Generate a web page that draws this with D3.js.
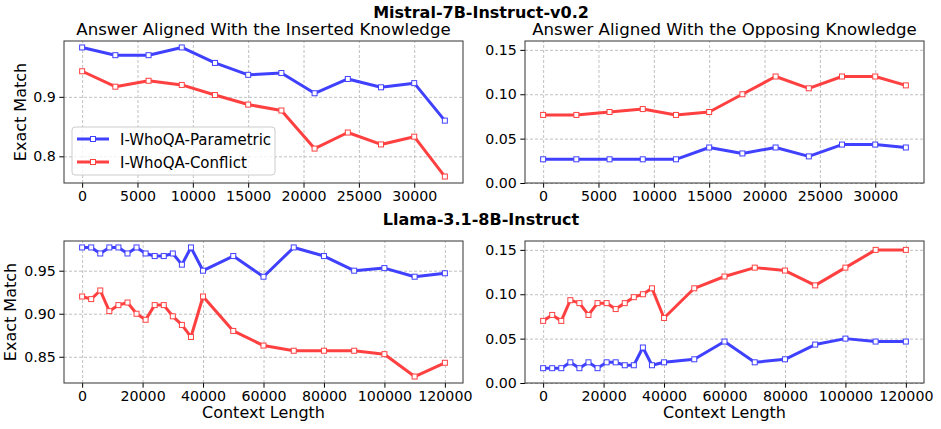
<!DOCTYPE html>
<html lang="en">
<head>
<meta charset="UTF-8">
<title>Exact Match vs Context Length</title>
<script src="https://d3js.org/d3.v7.min.js"></script>
<style>
  body { margin: 0; background: #fff; font-family: "DejaVu Sans", sans-serif; }
  .tick text { font-family: "DejaVu Sans", sans-serif; font-size: 14.2px; fill: #000; }
  .tick line { stroke: #000; }
  .grid line { stroke: #b0b0b0; stroke-dasharray: 3,2; stroke-width: 0.8; }
  .grid path { display: none; }
</style>
</head>
<body>
<svg id="chart" width="941" height="429"></svg>
<script>
// Mistral-7B-Instruct-v0.2 context lengths
const mistralX = [0, 3000, 6000, 9000, 12000, 15000, 18000, 21000, 24000, 27000, 30000, 32768];
// Llama-3.1-8B-Instruct context lengths
const llamaX = [0, 3000, 6000, 9000, 12000, 15000, 18000, 21000, 24000, 27000, 30000, 33000, 36000,
  40000, 50000, 60000, 70000, 80000, 90000, 100000, 110000, 120000];

const mistralInsParam = [0.983, 0.970, 0.970, 0.983, 0.957, 0.937, 0.940, 0.906, 0.930, 0.916, 0.923, 0.860];
const mistralInsConf  = [0.943, 0.917, 0.927, 0.920, 0.903, 0.887, 0.877, 0.813, 0.840, 0.820, 0.833, 0.766];
const mistralOppParam = [0.0267, 0.0267, 0.0267, 0.0267, 0.0267, 0.040, 0.0333, 0.040, 0.030, 0.0433, 0.0433, 0.040];
const mistralOppConf  = [0.0767, 0.0767, 0.080, 0.0833, 0.0767, 0.080, 0.100, 0.120, 0.1067, 0.120, 0.120, 0.110];

const llamaInsParam = [0.977, 0.977, 0.970, 0.977, 0.977, 0.970, 0.977, 0.970, 0.967, 0.967, 0.970, 0.957, 0.977,
  0.950, 0.967, 0.943, 0.977, 0.967, 0.950, 0.953, 0.943, 0.947];
const llamaInsConf  = [0.920, 0.917, 0.927, 0.903, 0.910, 0.913, 0.900, 0.893, 0.910, 0.910, 0.897, 0.887, 0.873,
  0.920, 0.880, 0.863, 0.857, 0.857, 0.857, 0.853, 0.827, 0.843];
const llamaOppParam = [0.0167, 0.0167, 0.0167, 0.0233, 0.0167, 0.0233, 0.0167, 0.0233, 0.0233, 0.020, 0.020, 0.040, 0.020,
  0.0233, 0.0267, 0.0467, 0.0233, 0.0267, 0.0433, 0.050, 0.0467, 0.0467];
const llamaOppConf  = [0.070, 0.0767, 0.070, 0.0933, 0.090, 0.0767, 0.090, 0.090, 0.0833, 0.090, 0.0967, 0.100, 0.1067,
  0.0733, 0.1067, 0.120, 0.130, 0.1267, 0.110, 0.130, 0.150, 0.150];

const seriesNames = ["I-WhoQA-Parametric", "I-WhoQA-Conflict"];
const colors = ["#4040ff", "#ff4040"];

const mistralXTicks = [0, 5000, 10000, 15000, 20000, 25000, 30000];
const llamaXTicks = [0, 20000, 40000, 60000, 80000, 100000, 120000];

const svg = d3.select("#chart");
const font = "DejaVu Sans, sans-serif";

const colL = 64, colR = 525, pw = 399, ph = 142;
const rowT = 41, rowB = 241;

function pad(ext) {
  const d = ext[1] - ext[0];
  return [ext[0] - d * 0.05, ext[1] + d * 0.05];
}

function panel(cfg) {
  const g = svg.append("g").attr("transform", `translate(${cfg.x},${cfg.y})`);
  const x = d3.scaleLinear().domain(pad(d3.extent(cfg.xs))).range([0, pw]);
  const yDom = cfg.yDomain || pad(d3.extent(cfg.series.flat()));
  const y = d3.scaleLinear().domain(yDom).range([ph, 0]);

  // grid
  g.append("g").attr("class", "grid").attr("transform", `translate(0,${ph})`)
    .call(d3.axisBottom(x).tickValues(cfg.xTicks).tickSize(-ph).tickFormat(""));
  g.append("g").attr("class", "grid")
    .call(d3.axisLeft(y).tickValues(cfg.yTicks).tickSize(-pw).tickFormat(""));

  // axes
  const xa = g.append("g").attr("transform", `translate(0,${ph})`)
    .call(d3.axisBottom(x).tickValues(cfg.xTicks).tickSize(4.7).tickPadding(3.5).tickFormat(d3.format("d")));
  const ya = g.append("g")
    .call(d3.axisLeft(y).tickValues(cfg.yTicks).tickSize(4.7).tickPadding(3.5).tickFormat(d3.format(cfg.yFmt)));
  xa.select(".domain").remove();
  ya.select(".domain").remove();

  const line = d3.line().x((d, i) => x(cfg.xs[i])).y(d => y(d));
  cfg.series.forEach((vals, k) => {
    g.append("path").datum(vals)
      .attr("fill", "none").attr("stroke", colors[k]).attr("stroke-width", 3)
      .attr("stroke-linejoin", "round").attr("d", line);
    g.selectAll(null).data(vals).enter().append("rect")
      .attr("x", (d, i) => x(cfg.xs[i]) - 2.5).attr("y", d => y(d) - 2.5)
      .attr("width", 5).attr("height", 5)
      .attr("fill", "#fff").attr("stroke", colors[k]).attr("stroke-width", 1);
  });

  g.append("rect").attr("width", pw).attr("height", ph)
    .attr("fill", "none").attr("stroke", "#333").attr("stroke-width", 1);

  if (cfg.title) {
    g.append("text").attr("x", pw / 2).attr("y", -6).attr("text-anchor", "middle")
      .attr("font-family", font).attr("font-size", 16.6).text(cfg.title);
  }
  if (cfg.ylabel) {
    g.append("text").attr("transform", `translate(${cfg.ylabelX},${ph / 2}) rotate(-90)`)
      .attr("text-anchor", "middle").attr("font-family", font).attr("font-size", 16)
      .text(cfg.ylabel);
  }
  if (cfg.xlabel) {
    g.append("text").attr("x", pw / 2).attr("y", ph + 35).attr("text-anchor", "middle")
      .attr("font-family", font).attr("font-size", 16).text(cfg.xlabel);
  }
  return g;
}

const tl = panel({
  x: colL, y: rowT, xs: mistralX, series: [mistralInsParam, mistralInsConf],
  xTicks: mistralXTicks, yTicks: [0.8, 0.9], yFmt: ".1f",
  title: "Answer Aligned With the Inserted Knowledge", ylabel: "Exact Match", ylabelX: -38
});
panel({
  x: colR, y: rowT, xs: mistralX, series: [mistralOppParam, mistralOppConf], yDomain: [0, 0.16],
  xTicks: mistralXTicks, yTicks: [0, 0.05, 0.10, 0.15], yFmt: ".2f",
  title: "Answer Aligned With the Opposing Knowledge"
});
panel({
  x: colL, y: rowB, xs: llamaX, series: [llamaInsParam, llamaInsConf],
  xTicks: llamaXTicks, yTicks: [0.85, 0.90, 0.95], yFmt: ".2f",
  ylabel: "Exact Match", ylabelX: -48, xlabel: "Context Length"
});
panel({
  x: colR, y: rowB, xs: llamaX, series: [llamaOppParam, llamaOppConf], yDomain: [0, 0.16],
  xTicks: llamaXTicks, yTicks: [0, 0.05, 0.10, 0.15], yFmt: ".2f",
  xlabel: "Context Length"
});

// suptitles
svg.append("text").attr("x", 481).attr("y", 18).attr("text-anchor", "middle")
  .attr("font-family", font).attr("font-size", 16).attr("font-weight", "bold")
  .text("Mistral-7B-Instruct-v0.2");
svg.append("text").attr("x", 481).attr("y", 225).attr("text-anchor", "middle")
  .attr("font-family", font).attr("font-size", 16).attr("font-weight", "bold")
  .text("Llama-3.1-8B-Instruct");

// legend in top-left panel
const lg = tl.append("g").attr("transform", "translate(8,86)");
lg.append("rect").attr("width", 203).attr("height", 48).attr("rx", 3)
  .attr("fill", "#fff").attr("fill-opacity", 0.8).attr("stroke", "#ccc");
seriesNames.forEach((name, k) => {
  const cy = 12 + k * 23;
  lg.append("line").attr("x1", 5).attr("x2", 37).attr("y1", cy).attr("y2", cy)
    .attr("stroke", colors[k]).attr("stroke-width", 3);
  lg.append("rect").attr("x", 18.5).attr("y", cy - 2.5).attr("width", 5).attr("height", 5)
    .attr("fill", "#fff").attr("stroke", colors[k]);
  lg.append("text").attr("x", 48).attr("y", cy + 5.5).attr("font-family", font)
    .attr("font-size", 15).text(name);
});
</script>
</body>
</html>
